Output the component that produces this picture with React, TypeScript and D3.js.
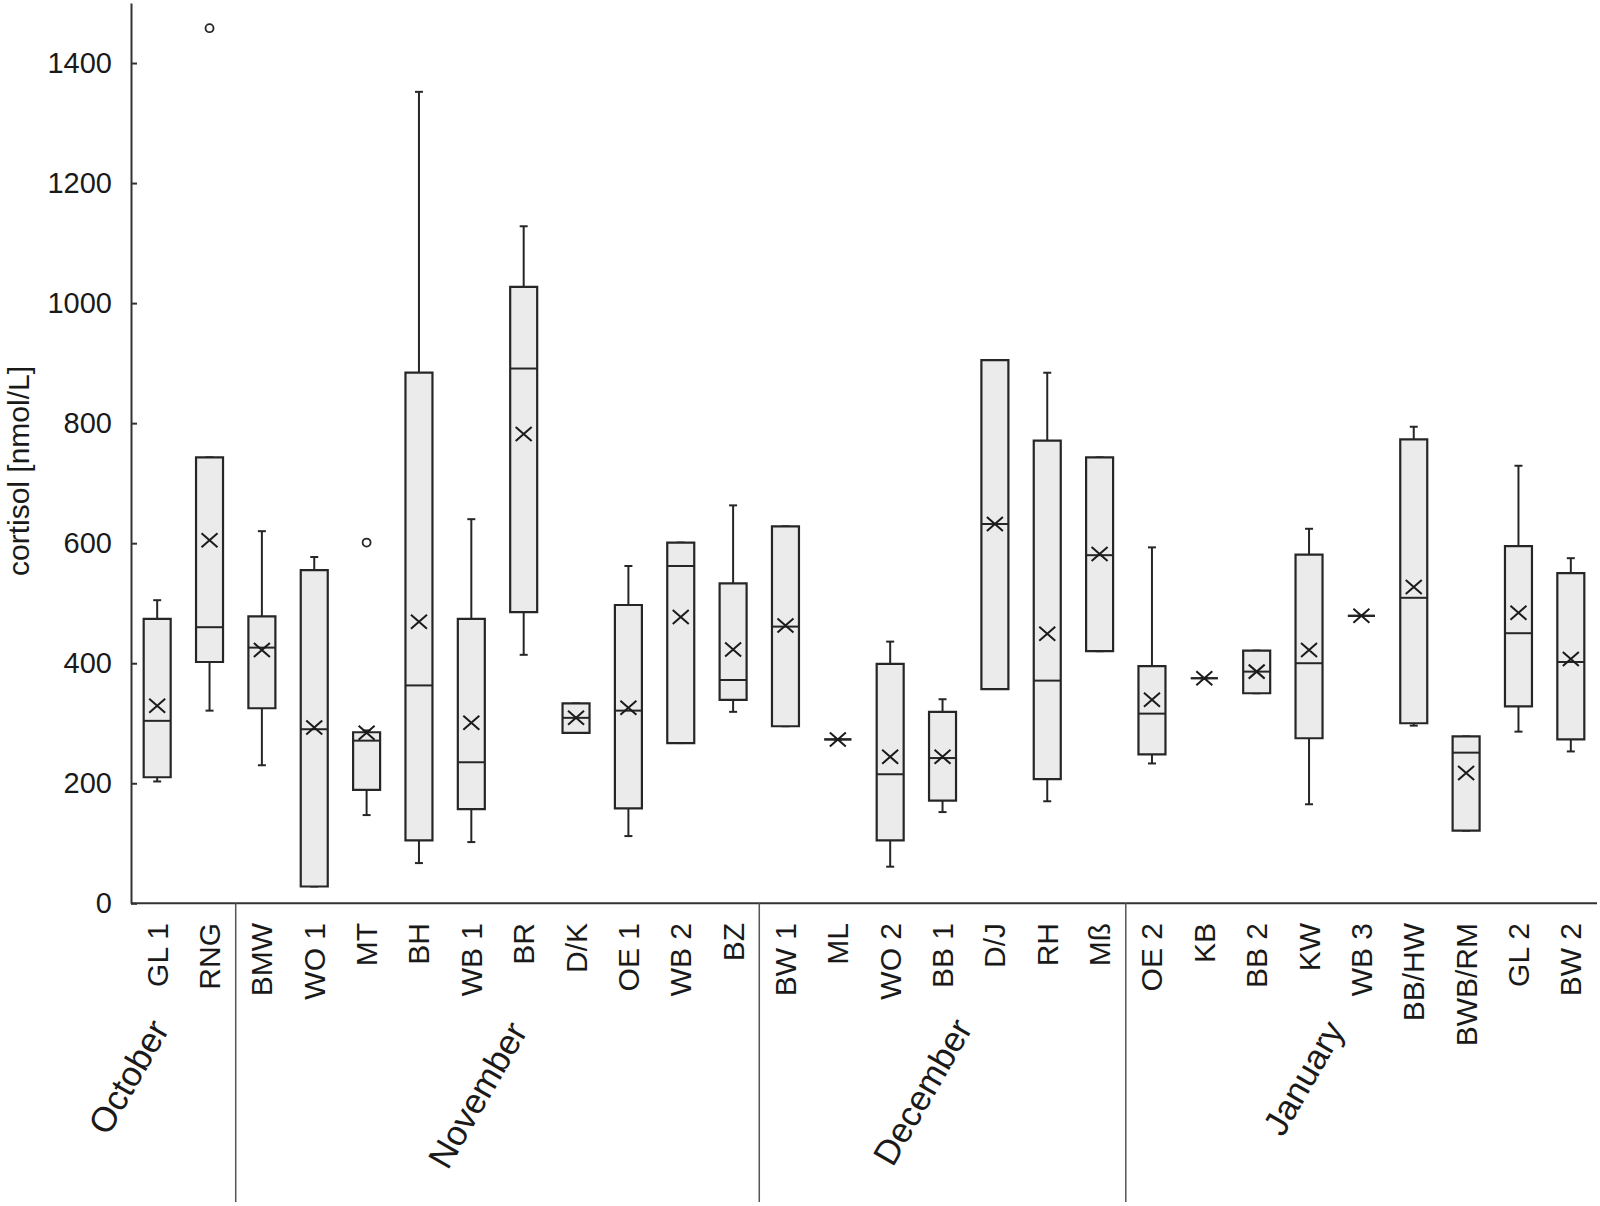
import React, { useEffect, useRef } from 'react';
import * as d3 from 'd3';

// sampling sites, in chronological order
const categories = [
  'GL 1', 'RNG',
  'BMW', 'WO 1', 'MT', 'BH', 'WB 1', 'BR', 'D/K', 'OE 1', 'WB 2', 'BZ',
  'BW 1', 'ML', 'WO 2', 'BB 1', 'D/J', 'RH', 'Mß',
  'OE 2', 'KB', 'BB 2', 'KW', 'WB 3', 'BB/HW', 'BWB/RM', 'GL 2', 'BW 2',
];
const months = ['October', 'November', 'December', 'January'];
const monthSizes = [2, 10, 7, 9];

// cortisol [nmol/L]
const mins = [203, 321, 230, 28, 147, 67, 102, 414, 284, 112, 267, 319, 295, 273, 61, 152, 357, 170, 420, 233, 375, 350, 165, 479, 296, 121, 286, 253];
const q1s = [210, 402, 325, 28, 189, 105, 157, 485, 284, 158, 267, 339, 295, 273, 105, 171, 357, 207, 420, 248, 375, 350, 275, 479, 300, 121, 328, 273];
const medians = [304, 460, 426, 290, 271, 363, 235, 891, 309, 321, 562, 372, 461, 273, 215, 242, 632, 371, 580, 316, 375, 386, 400, 479, 509, 251, 450, 402];
const q3s = [474, 743, 478, 555, 285, 884, 474, 1027, 333, 497, 601, 533, 628, 273, 399, 319, 905, 771, 743, 395, 375, 421, 581, 479, 773, 278, 595, 550];
const maxs = [505, 743, 620, 577, 288, 1352, 640, 1128, 333, 562, 601, 663, 628, 273, 436, 340, 905, 884, 743, 593, 375, 421, 624, 479, 794, 278, 729, 575];
const means = [329, 605, 422, 293, 284, 469, 301, 782, 309, 326, 477, 423, 463, 273, 244, 244, 632, 449, 582, 339, 375, 386, 422, 479, 527, 217, 484, 407];

const outlierSites = ['RNG', 'MT'];
const outlierValues = [1458, 601];

const yTicks = [0, 200, 400, 600, 800, 1000, 1200, 1400];

// month label anchor points (layout only)
const monthLabelPos = [[139, 1083], [488, 1101], [933, 1098], [1314, 1084]];

const FONT = '"Liberation Sans", Arial, Helvetica, sans-serif';

export default function App() {
  const svgRef = useRef<SVGSVGElement | null>(null);

  useEffect(() => {
    const width = 1600;
    const height = 1206;
    const left = 131;
    const right = 1597;
    const bottom = 903.3;
    const top = 3;

    const svg = d3.select(svgRef.current)
      .attr('width', width)
      .attr('height', height)
      .style('background', '#fff');

    svg.selectAll('*').remove();

    const x = d3.scaleBand()
      .domain(categories)
      .range([left, right])
      .padding(0);

    const y = d3.scaleLinear()
      .domain([0, 1500])
      .range([bottom, top]);

    const boxW = 27;
    const capW = 8;
    const stroke = '#262626';

    // y axis, ticks pointing inward
    const yAxis = d3.axisLeft(y)
      .tickValues(yTicks)
      .tickSizeInner(-6)
      .tickSizeOuter(0)
      .tickPadding(19)
      .tickFormat(d3.format('d'));

    const gy = svg.append('g')
      .attr('transform', `translate(${left},0)`)
      .call(yAxis);
    gy.select('.domain').attr('stroke', '#333').attr('stroke-width', 2);
    gy.selectAll('.tick line').attr('stroke', '#333').attr('stroke-width', 2);
    gy.selectAll('.tick text')
      .style('font-family', FONT)
      .style('font-size', '29px')
      .attr('fill', '#1a1a1a');

    // x axis line
    svg.append('line')
      .attr('x1', left)
      .attr('x2', right)
      .attr('y1', bottom)
      .attr('y2', bottom)
      .attr('stroke', '#333')
      .attr('stroke-width', 2);

    // y title
    svg.append('text')
      .attr('transform', 'translate(29,471) rotate(-90)')
      .attr('text-anchor', 'middle')
      .style('font-family', FONT)
      .style('font-size', '30px')
      .attr('fill', '#1a1a1a')
      .text('cortisol [nmol/L]');

    // category labels
    svg.append('g')
      .selectAll('text')
      .data(categories)
      .join('text')
      .attr('transform', (d) => `translate(${x(d)! + x.bandwidth() / 2 + 10.5},923) rotate(-90)`)
      .attr('text-anchor', 'end')
      .style('font-family', FONT)
      .style('font-size', '30px')
      .attr('fill', '#1a1a1a')
      .text((d) => d);

    // month separators
    let acc = 0;
    monthSizes.slice(0, -1).forEach((n) => {
      acc += n;
      const sx = x(categories[acc])!;
      svg.append('line')
        .attr('x1', sx)
        .attr('x2', sx)
        .attr('y1', bottom)
        .attr('y2', 1202)
        .attr('stroke', '#555')
        .attr('stroke-width', 1.5);
    });

    // month labels
    svg.append('g')
      .selectAll('text')
      .data(months)
      .join('text')
      .attr('transform', (_, i) => `translate(${monthLabelPos[i][0]},${monthLabelPos[i][1]}) rotate(-60)`)
      .attr('text-anchor', 'middle')
      .style('font-family', FONT)
      .style('font-size', '35px')
      .attr('fill', '#1a1a1a')
      .text((d) => d);

    // boxes
    const g = svg.append('g');
    categories.forEach((c, i) => {
      const cx = x(c)! + x.bandwidth() / 2;
      const x0 = cx - boxW / 2;
      const x1 = cx + boxW / 2;

      // whiskers
      g.append('line')
        .attr('x1', cx).attr('x2', cx)
        .attr('y1', y(q3s[i])).attr('y2', y(maxs[i]))
        .attr('stroke', stroke).attr('stroke-width', 2);
      g.append('line')
        .attr('x1', cx).attr('x2', cx)
        .attr('y1', y(q1s[i])).attr('y2', y(mins[i]))
        .attr('stroke', stroke).attr('stroke-width', 2);
      [maxs[i], mins[i]].forEach((v) => {
        g.append('line')
          .attr('x1', cx - capW / 2).attr('x2', cx + capW / 2)
          .attr('y1', y(v)).attr('y2', y(v))
          .attr('stroke', stroke).attr('stroke-width', 2);
      });

      // box (path so a collapsed box still shows)
      g.append('path')
        .attr('d', `M${x0},${y(q3s[i])}H${x1}V${y(q1s[i])}H${x0}Z`)
        .attr('fill', '#ebebeb')
        .attr('stroke', stroke)
        .attr('stroke-width', 2.2);

      // median
      g.append('line')
        .attr('x1', x0).attr('x2', x1)
        .attr('y1', y(medians[i])).attr('y2', y(medians[i]))
        .attr('stroke', stroke).attr('stroke-width', 2);

      // mean marker
      const my = y(means[i]);
      const hw = 8;
      const hh = 7;
      g.append('path')
        .attr('d', `M${cx - hw},${my - hh}L${cx + hw},${my + hh}M${cx - hw},${my + hh}L${cx + hw},${my - hh}`)
        .attr('stroke', '#1a1a1a')
        .attr('stroke-width', 2)
        .attr('fill', 'none');
    });

    // outliers
    g.selectAll('circle')
      .data(outlierSites.map((s, i) => ({ s, v: outlierValues[i] })))
      .join('circle')
      .attr('cx', (d) => x(d.s)! + x.bandwidth() / 2)
      .attr('cy', (d) => y(d.v))
      .attr('r', 4)
      .attr('fill', 'none')
      .attr('stroke', stroke)
      .attr('stroke-width', 1.8);
  }, []);

  return <svg ref={svgRef} style={{ position: 'absolute', left: 0, top: 0 }}></svg>;
}
